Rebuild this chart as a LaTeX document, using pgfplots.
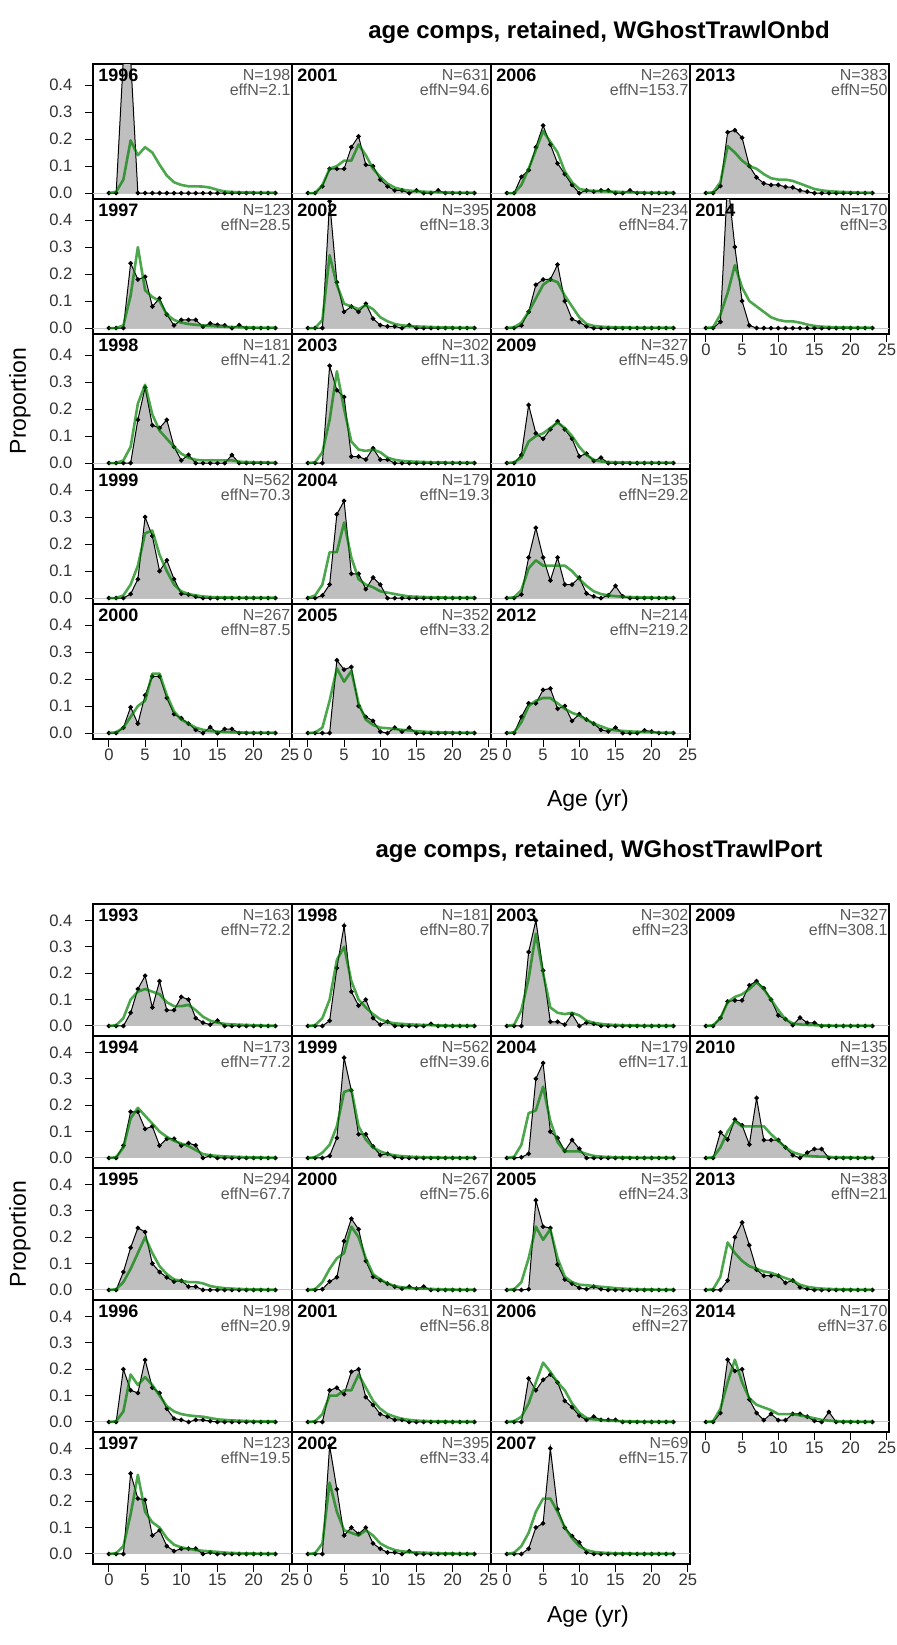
\documentclass[border=0pt]{standalone}
\usepackage{fontspec}
\setmainfont{Liberation Sans}
\usepackage{pgfplots}
\pgfplotsset{compat=1.18}
\definecolor{obsfill}{gray}{0.75}
\definecolor{expcol}{RGB}{0,128,0}
\definecolor{ntext}{gray}{0.35}
\pgfplotsset{
  pnlbase/.style={scale only axis, width=99.5pt, anchor=north west, xmin=-2.2, xmax=25.3,
    xtick=\empty, ytick=\empty, axis line style={line width=0.7pt, black},
    clip marker paths=true, tick align=outside, tick pos=left,
    major tick length=4pt, tick style={line width=0.5pt, black},
    tick label style={font=\fontsize{8.3}{9}\selectfont, text=black!80},
    /pgf/number format/assume math mode=true},
  topg/.style={pnlbase, height=67.5pt, ymin=-0.022, ymax=0.478},
  botg/.style={pnlbase, height=66pt, ymin=-0.038, ymax=0.462},
  yt/.style={ytick={0,0.1,0.2,0.3,0.4}, yticklabel style={/pgf/number format/fixed, /pgf/number format/fixed zerofill, /pgf/number format/precision=1, xshift=-2.8pt}},
  xt/.style={xtick={0,5,10,15,20,25}, xticklabel style={yshift=2.4pt}},
}
% #1 position, #2 year, #3 N, #4 effN, #5 data (obs exp per age), #6 group style, #7 extra
\newcommand{\pnl}[7]{%
\begin{axis}[#6, at={#1}, #7]
\addplot[gray!45, line width=0.5pt, forget plot] coordinates {(-3,0) (27,0)};
\addplot[fill=obsfill, draw=none] table[x expr=\coordindex, y index=0, row sep=\\] {#5} \closedcycle;
\addplot[black, line width=0.5pt, mark=*, mark size=0.9pt] table[x expr=\coordindex, y index=0, row sep=\\] {#5};
\addplot[expcol, draw opacity=0.7, line width=1.3pt, line join=round] table[x expr=\coordindex, y index=1, row sep=\\] {#5};
\node[anchor=north west, inner sep=0pt, xshift=2.5pt, yshift=-2.5pt, font=\bfseries\fontsize{9}{10}\selectfont] at (rel axis cs:0,1) {#2};
\node[anchor=north east, align=right, inner sep=0pt, xshift=-0.6pt, yshift=-2.3pt, font=\fontsize{8}{7.8}\selectfont, text=ntext] at (rel axis cs:1,1) {N=#3\\effN=#4};
\end{axis}}
\begin{document}
\begin{tikzpicture}
\path[use as bounding box] (0,0) rectangle (448pt,-822.5pt);
\node[font=\bfseries\fontsize{12}{14}\selectfont] at (299.5pt,-16pt) {age comps, retained, WGhostTrawlOnbd};
\node[font=\bfseries\fontsize{12}{14}\selectfont] at (299.5pt,-425.5pt) {age comps, retained, WGhostTrawlPort};
\node[rotate=90, font=\fontsize{11.5}{13}\selectfont] at (10pt,-200.5pt) {Proportion};
\node[rotate=90, font=\fontsize{11.5}{13}\selectfont] at (10pt,-617pt) {Proportion};
\node[font=\fontsize{11.5}{13}\selectfont] at (294pt,-400.5pt) {Age (yr)};
\node[font=\fontsize{11.5}{13}\selectfont] at (294pt,-808.5pt) {Age (yr)};
% ================= TOP GROUP (Onbd) =================
\pnl{(46.5pt,-32pt)}{1996}{198}{2.1}{0 0\\0 .005\\.5 .05\\.5 .195\\0 .14\\0 .17\\0 .15\\0 .105\\0 .065\\0 .04\\0 .03\\0 .025\\0 .025\\0 .024\\0 .02\\0 .012\\0 .006\\0 .004\\0 .003\\0 .002\\0 .002\\0 .001\\0 .001\\0 .001\\}{topg}{yt}
\pnl{(46.5pt,-99.5pt)}{1997}{123}{28.5}{0 0\\0 0\\0 .01\\.24 .12\\.18 .3\\.19 .14\\.08 .115\\.11 .1\\.05 .05\\.01 .03\\.03 .02\\.03 .015\\.03 .012\\.005 .01\\.017 .008\\.012 .006\\.01 .005\\0 .004\\.011 .003\\0 .002\\0 .002\\0 .001\\0 .001\\0 .001\\}{topg}{yt}
\pnl{(46.5pt,-167pt)}{1998}{181}{41.2}{0 0\\0 0\\0 .01\\0 .06\\.16 .22\\.28 .29\\.14 .18\\.13 .12\\.16 .09\\.06 .06\\.01 .035\\.03 .02\\0 .012\\0 .01\\0 .01\\0 .01\\0 .01\\.03 .01\\0 .005\\0 .004\\0 .003\\0 .002\\0 .002\\0 .001\\}{topg}{yt}
\pnl{(46.5pt,-234.5pt)}{1999}{562}{70.3}{0 0\\0 0\\0 .01\\.015 .05\\.07 .12\\.3 .24\\.23 .25\\.1 .16\\.14 .1\\.07 .05\\.016 .025\\.013 .015\\.005 .01\\0 .006\\0 .004\\0 .003\\0 .002\\0 .002\\0 .001\\0 .001\\0 .001\\0 .001\\0 .001\\0 .001\\}{topg}{yt}
\pnl{(46.5pt,-302pt)}{2000}{267}{87.5}{0 0\\0 .003\\.02 .02\\.096 .06\\.035 .1\\.14 .12\\.21 .22\\.21 .22\\.13 .14\\.07 .08\\.055 .05\\.035 .035\\.012 .02\\0 .012\\.022 .008\\0 .005\\.015 .004\\.015 .003\\0 .002\\0 .002\\0 .001\\0 .001\\0 .001\\0 .001\\}{topg}{yt,xt}
\pnl{(146pt,-32pt)}{2001}{631}{94.6}{0 0\\0 0\\.025 .03\\.09 .09\\.09 .1\\.09 .12\\.17 .12\\.21 .18\\.105 .14\\.1 .09\\.05 .06\\.025 .035\\.01 .02\\.01 .013\\0 .009\\.01 .007\\0 .005\\0 .004\\.01 .003\\0 .002\\0 .002\\0 .001\\0 .001\\0 .001\\}{topg}{}
\pnl{(146pt,-99.5pt)}{2002}{395}{18.3}{0 0\\0 0\\0 .03\\.47 .27\\.17 .16\\.06 .09\\.08 .08\\.06 .07\\.09 .085\\.035 .07\\.011 .04\\.006 .025\\.006 .015\\0 .01\\.011 .008\\0 .006\\0 .005\\0 .004\\0 .003\\0 .002\\0 .002\\0 .001\\0 .001\\0 .001\\}{topg}{}
\pnl{(146pt,-167pt)}{2003}{302}{11.3}{0 0\\0 .003\\0 .04\\.36 .16\\.27 .34\\.245 .2\\.024 .08\\.024 .05\\.013 .045\\.055 .05\\.013 .04\\.013 .02\\0 .012\\0 .008\\0 .006\\0 .005\\0 .004\\0 .003\\0 .002\\0 .002\\0 .001\\0 .001\\0 .001\\0 .001\\}{topg}{}
\pnl{(146pt,-234.5pt)}{2004}{179}{19.3}{0 0\\0 .01\\.01 .05\\.05 .17\\.31 .17\\.36 .28\\.09 .15\\.09 .07\\.033 .05\\.076 .04\\.05 .025\\0 .02\\0 .015\\0 .01\\0 .006\\0 .005\\0 .004\\0 .003\\0 .002\\0 .002\\0 .001\\0 .001\\0 .001\\0 .001\\}{topg}{}
\pnl{(146pt,-302pt)}{2005}{352}{33.2}{0 0\\0 .002\\0 .02\\0 .12\\.27 .24\\.235 .19\\.245 .23\\.1 .11\\.06 .05\\.045 .03\\.005 .02\\0 .018\\.02 .015\\.005 .012\\.02 .01\\0 .007\\0 .005\\0 .004\\0 .003\\0 .002\\0 .002\\0 .001\\0 .001\\0 .001\\}{topg}{xt}
\pnl{(245.5pt,-32pt)}{2006}{263}{153.7}{0 0\\0 0\\.06 .03\\.085 .09\\.17 .16\\.25 .23\\.18 .19\\.11 .15\\.07 .08\\.03 .04\\0 .015\\.01 .01\\.005 .008\\.01 .007\\.01 .006\\0 .005\\0 .004\\.01 .003\\0 .002\\0 .002\\0 .001\\0 .001\\0 .001\\0 .001\\}{topg}{}
\pnl{(245.5pt,-99.5pt)}{2008}{234}{84.7}{0 0\\0 .003\\.01 .02\\.06 .06\\.16 .11\\.18 .16\\.18 .18\\.235 .17\\.1 .12\\.033 .08\\.022 .04\\.006 .015\\0 .008\\0 .005\\0 .004\\0 .003\\0 .002\\0 .002\\0 .001\\0 .001\\0 .001\\0 .001\\0 .001\\0 .001\\}{topg}{}
\pnl{(245.5pt,-167pt)}{2009}{327}{45.9}{0 0\\0 .003\\.03 .02\\.215 .08\\.11 .1\\.09 .11\\.125 .13\\.155 .15\\.125 .13\\.09 .1\\.025 .06\\.035 .03\\.008 .012\\.02 .006\\0 .004\\0 .003\\0 .002\\0 .002\\0 .001\\0 .001\\0 .001\\0 .001\\0 .001\\0 .001\\}{topg}{}
\pnl{(245.5pt,-234.5pt)}{2010}{135}{29.2}{0 0\\0 .003\\.013 .03\\.15 .11\\.26 .14\\.15 .12\\.065 .12\\.15 .12\\.05 .12\\.05 .1\\.076 .07\\.017 .045\\.006 .025\\0 .015\\.01 .01\\.045 .007\\.006 .005\\0 .004\\0 .003\\0 .002\\0 .002\\0 .001\\0 .001\\0 .001\\}{topg}{}
\pnl{(245.5pt,-302pt)}{2012}{214}{219.2}{0 0\\0 .003\\.06 .04\\.11 .1\\.11 .12\\.16 .13\\.165 .13\\.09 .11\\.1 .09\\.045 .075\\.07 .065\\.05 .05\\.035 .035\\.012 .025\\.006 .015\\.02 .01\\0 .008\\0 .006\\0 .005\\.01 .004\\.006 .003\\0 .002\\0 .001\\0 .001\\}{topg}{xt}
\pnl{(345pt,-32pt)}{2013}{383}{50}{0 0\\0 .003\\.026 .04\\.225 .174\\.233 .15\\.205 .12\\.1 .1\\.058 .09\\.036 .07\\.03 .055\\.03 .05\\.023 .05\\.021 .045\\.01 .035\\.005 .025\\0 .015\\0 .01\\0 .007\\0 .005\\0 .004\\0 .003\\0 .002\\0 .001\\0 .001\\}{topg}{}
\pnl{(345pt,-99.5pt)}{2014}{170}{3}{0 0\\0 .003\\.023 .05\\.55 .13\\.3 .233\\.1 .15\\.01 .1\\0 .08\\0 .06\\0 .04\\0 .03\\0 .025\\0 .025\\0 .02\\0 .013\\0 .008\\0 .005\\0 .004\\0 .003\\0 .002\\0 .002\\0 .001\\0 .001\\0 .001\\}{topg}{xt}
% ================= BOTTOM GROUP (Port) =================
\pnl{(46.5pt,-452pt)}{1993}{163}{72.2}{0 0\\0 .003\\0 .03\\.05 .1\\.14 .13\\.19 .14\\.07 .13\\.17 .12\\.06 .09\\.06 .075\\.11 .075\\.1 .08\\.03 .06\\.013 .035\\.005 .02\\.02 .013\\0 .008\\0 .006\\0 .005\\0 .004\\0 .003\\0 .002\\0 .001\\0 .001\\}{botg}{yt}
\pnl{(46.5pt,-518pt)}{1994}{173}{77.2}{0 0\\0 .003\\.047 .04\\.175 .15\\.175 .19\\.11 .16\\.12 .13\\.047 .1\\.073 .08\\.073 .065\\.047 .055\\.056 .045\\.048 .03\\0 .015\\.008 .01\\0 .008\\0 .006\\0 .005\\0 .004\\0 .003\\0 .002\\0 .002\\0 .001\\0 .001\\}{botg}{yt}
\pnl{(46.5pt,-584pt)}{1995}{294}{67.7}{0 0\\0 .003\\.068 .03\\.16 .08\\.235 .14\\.22 .2\\.1 .14\\.068 .09\\.048 .06\\.032 .04\\.035 .035\\.013 .03\\.013 .03\\0 .025\\0 .015\\0 .01\\0 .007\\0 .005\\0 .004\\0 .003\\0 .002\\0 .002\\0 .001\\0 .001\\}{botg}{yt}
\pnl{(46.5pt,-650pt)}{1996}{198}{20.9}{0 0\\0 .003\\.2 .04\\.12 .18\\.11 .14\\.235 .17\\.13 .14\\.11 .1\\.05 .06\\.013 .04\\.008 .03\\0 .025\\.008 .022\\.008 .02\\.003 .015\\0 .01\\0 .008\\0 .006\\0 .005\\0 .004\\0 .003\\0 .002\\0 .002\\0 .002\\}{botg}{yt}
\pnl{(46.5pt,-716pt)}{1997}{123}{19.5}{0 0\\0 .003\\0 .03\\.305 .15\\.21 .3\\.205 .16\\.07 .12\\.09 .1\\.03 .06\\.011 .035\\.02 .025\\.02 .02\\.02 .015\\0 .012\\.006 .01\\0 .008\\0 .005\\0 .004\\0 .003\\0 .002\\0 .002\\0 .001\\0 .001\\0 .001\\}{botg}{yt,xt}
\pnl{(146pt,-452pt)}{1998}{181}{80.7}{0 0\\0 .003\\0 .03\\.02 .1\\.22 .25\\.38 .3\\.13 .17\\.077 .1\\.1 .07\\.03 .045\\.005 .025\\.016 .015\\0 .01\\0 .008\\0 .006\\0 .005\\0 .004\\.008 .003\\0 .002\\0 .002\\0 .001\\0 .001\\0 .001\\0 .001\\}{botg}{}
\pnl{(146pt,-518pt)}{1999}{562}{39.6}{0 0\\0 .003\\0 .02\\.008 .05\\.076 .12\\.38 .25\\.256 .26\\.09 .12\\.09 .07\\.044 .04\\.011 .025\\.016 .015\\.003 .01\\0 .007\\0 .005\\0 .004\\0 .003\\0 .002\\0 .002\\0 .001\\0 .001\\0 .001\\0 .001\\0 .001\\}{botg}{}
\pnl{(146pt,-584pt)}{2000}{267}{75.6}{0 0\\0 .003\\.003 .03\\.032 .08\\.048 .12\\.185 .14\\.27 .24\\.23 .2\\.11 .12\\.05 .06\\.037 .04\\.024 .025\\.013 .015\\.005 .01\\.013 .008\\.005 .006\\.013 .005\\0 .004\\0 .003\\0 .002\\0 .002\\0 .001\\0 .001\\0 .001\\}{botg}{}
\pnl{(146pt,-650pt)}{2001}{631}{56.8}{0 0\\0 .003\\0 .03\\.12 .1\\.13 .1\\.105 .12\\.19 .12\\.2 .18\\.094 .13\\.065 .08\\.03 .05\\.02 .03\\.008 .02\\.008 .012\\0 .008\\0 .005\\0 .004\\0 .003\\0 .002\\0 .002\\0 .001\\0 .001\\0 .001\\0 .001\\}{botg}{}
\pnl{(146pt,-716pt)}{2002}{395}{33.4}{0 0\\0 .003\\0 .04\\.41 .27\\.245 .16\\.07 .09\\.1 .08\\.076 .07\\.1 .09\\.04 .07\\.02 .04\\.006 .025\\.006 .015\\0 .01\\.011 .008\\0 .006\\0 .005\\0 .004\\0 .003\\0 .002\\0 .002\\0 .001\\0 .001\\0 .001\\}{botg}{xt}
\pnl{(245.5pt,-452pt)}{2003}{302}{23}{0 0\\0 .005\\0 .06\\.28 .18\\.4 .35\\.21 .2\\.016 .07\\.016 .05\\.005 .045\\.045 .05\\0 .04\\.013 .02\\.008 .012\\0 .008\\0 .005\\0 .004\\0 .003\\0 .002\\0 .002\\0 .001\\0 .001\\0 .001\\0 .001\\0 .001\\}{botg}{}
\pnl{(245.5pt,-518pt)}{2004}{179}{17.1}{0 0\\0 .005\\.003 .05\\.016 .17\\.3 .18\\.36 .27\\.1 .14\\.076 .06\\.027 .025\\.068 .025\\.035 .025\\0 .015\\0 .008\\0 .005\\0 .004\\0 .003\\0 .002\\0 .002\\0 .001\\0 .001\\0 .001\\0 .001\\0 .001\\0 .001\\}{botg}{}
\pnl{(245.5pt,-584pt)}{2005}{352}{24.3}{0 0\\0 .003\\0 .03\\.003 .12\\.34 .24\\.24 .19\\.235 .23\\.097 .12\\.04 .05\\.024 .03\\.008 .02\\.003 .018\\.013 .015\\.003 .012\\0 .01\\0 .007\\0 .005\\0 .004\\0 .003\\0 .002\\0 .002\\0 .001\\0 .001\\0 .001\\}{botg}{}
\pnl{(245.5pt,-650pt)}{2006}{263}{27}{0 0\\0 .003\\0 .02\\.165 .07\\.12 .15\\.16 .225\\.18 .19\\.15 .15\\.08 .12\\.056 .07\\.024 .035\\.008 .015\\.02 .01\\.008 .008\\.008 .005\\.008 .004\\0 .003\\0 .002\\0 .002\\0 .001\\0 .001\\0 .001\\0 .001\\0 .001\\}{botg}{}
\pnl{(245.5pt,-716pt)}{2007}{69}{15.7}{0 0\\0 .005\\0 .03\\.02 .08\\.1 .16\\.116 .21\\.4 .21\\.17 .16\\.1 .1\\.068 .06\\.044 .03\\.006 .015\\0 .008\\0 .005\\0 .004\\0 .003\\0 .002\\0 .002\\0 .001\\0 .001\\0 .001\\0 .001\\0 .001\\0 .001\\}{botg}{xt}
\pnl{(345pt,-452pt)}{2009}{327}{308.1}{0 0\\0 .003\\.03 .03\\.093 .09\\.097 .11\\.097 .12\\.154 .14\\.17 .165\\.143 .14\\.1 .1\\.04 .06\\.026 .025\\.003 .01\\.032 .006\\.012 .004\\.012 .003\\0 .002\\0 .002\\0 .001\\0 .001\\0 .001\\0 .001\\0 .001\\0 .001\\}{botg}{}
\pnl{(345pt,-518pt)}{2010}{135}{32}{0 0\\0 .003\\.097 .04\\.07 .1\\.146 .14\\.124 .12\\.051 .12\\.227 .12\\.068 .12\\.068 .09\\.068 .065\\.04 .04\\.011 .022\\0 .013\\.02 .008\\.034 .006\\.034 .005\\0 .004\\0 .003\\0 .002\\0 .002\\0 .001\\0 .001\\0 .001\\}{botg}{}
\pnl{(345pt,-584pt)}{2013}{383}{21}{0 0\\0 .003\\0 .05\\.036 .18\\.2 .14\\.256 .11\\.17 .09\\.077 .08\\.054 .07\\.054 .065\\.054 .055\\.027 .045\\.036 .035\\.01 .02\\.004 .012\\0 .008\\0 .005\\0 .004\\0 .003\\0 .002\\0 .002\\0 .001\\0 .001\\0 .001\\}{botg}{}
\pnl{(345pt,-650pt)}{2014}{170}{37.6}{0 0\\0 .003\\.034 .05\\.236 .15\\.193 .236\\.2 .15\\.085 .09\\.034 .065\\.007 .055\\.031 .045\\.007 .03\\.007 .03\\.031 .03\\.031 .025\\.02 .02\\.004 .014\\0 .008\\.038 .005\\0 .003\\0 .002\\0 .002\\0 .001\\0 .001\\0 .001\\}{botg}{xt}
\end{tikzpicture}
\end{document}
